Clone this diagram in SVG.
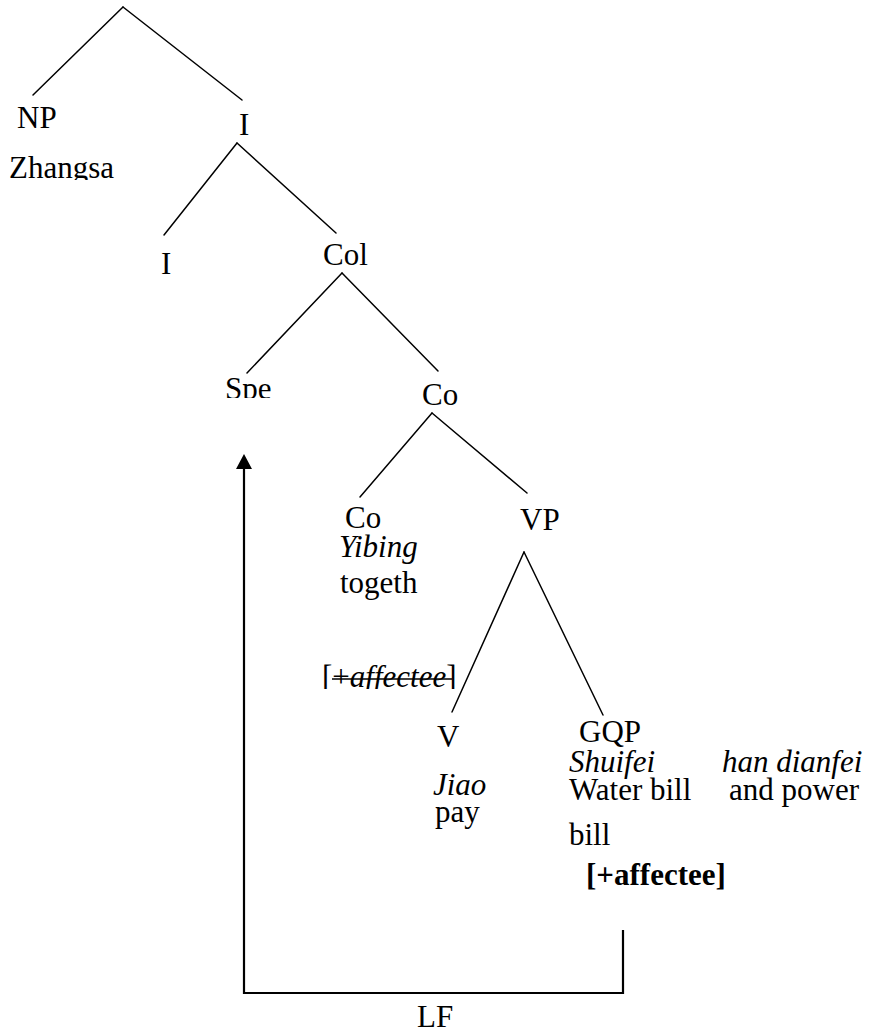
<svg xmlns="http://www.w3.org/2000/svg" width="874" height="1035" viewBox="0 0 874 1035">
  <style>
    text { font-family: "Liberation Serif", "Times New Roman", serif; font-size: 31px; fill: #000; }
    .it { font-style: italic; }
    .bd { font-weight: bold; }
    .branch { stroke: #000; stroke-width: 1.5; fill: none; stroke-linecap: round; }
    .move { stroke: #000; stroke-width: 2.2; fill: none; }
  </style>
  <defs>
    <clipPath id="clipZhangsa"><rect x="0" y="140" width="200" height="40"/></clipPath>
    <clipPath id="clipSpe"><rect x="200" y="360" width="100" height="38"/></clipPath>
    <clipPath id="clipAff"><rect x="300" y="650" width="180" height="39"/></clipPath>
  </defs>

  <rect width="874" height="1035" fill="#fff"/>

  <!-- tree branches -->
  <g id="connectors">
    <line class="branch" x1="123" y1="7" x2="33" y2="95"/>
    <line class="branch" x1="123" y1="7" x2="242" y2="100"/>
    <line class="branch" x1="237" y1="143" x2="164" y2="235"/>
    <line class="branch" x1="237" y1="143" x2="336" y2="233"/>
    <line class="branch" x1="342" y1="273" x2="247" y2="373"/>
    <line class="branch" x1="342" y1="273" x2="438" y2="371"/>
    <line class="branch" x1="432" y1="413" x2="360" y2="497"/>
    <line class="branch" x1="432" y1="413" x2="527" y2="493"/>
    <line class="branch" x1="524" y1="552" x2="452" y2="712"/>
    <line class="branch" x1="524" y1="552" x2="603" y2="715"/>
    <!-- LF movement -->
    <path id="lf-path" class="move" d="M623,930 V993 H244 V467"/>
    <polygon points="244,454 236,469 252,469" fill="#000"/>
  </g>

  <g id="node-np">
    <text x="17" y="128">NP</text>
    <text x="9" y="178" clip-path="url(#clipZhangsa)">Zhangsa</text>
  </g>
  <g id="node-i-bar"><text x="239" y="135">I</text></g>
  <g id="node-i"><text x="161" y="274">I</text></g>
  <g id="node-col"><text x="323" y="265">Col</text></g>
  <g id="node-spe"><text x="225" y="399" clip-path="url(#clipSpe)">Spe</text></g>
  <g id="node-co-bar"><text x="422" y="405">Co</text></g>
  <g id="node-co">
    <text x="345" y="528">Co</text>
    <text class="it" x="339" y="557">Yibing</text>
    <text x="340" y="593">togeth</text>
  </g>
  <g id="node-vp"><text x="520" y="530">VP</text></g>
  <g id="feature-struck" clip-path="url(#clipAff)">
    <text x="322" y="687">[+<tspan class="it">affectee</tspan>]</text>
    <line x1="332" y1="679" x2="452" y2="679" stroke="#000" stroke-width="1.6"/>
  </g>
  <g id="node-v">
    <text x="437" y="747">V</text>
    <text class="it" x="433" y="795">Jiao</text>
    <text x="435" y="822">pay</text>
  </g>
  <g id="node-gqp">
    <text x="579" y="742">GQP</text>
    <text class="it" x="569" y="772">Shuifei</text>
    <text class="it" x="722" y="772">han dianfei</text>
    <text x="569" y="800">Water bill</text>
    <text x="729" y="800">and power</text>
    <text x="569" y="845">bill</text>
    <text class="bd" x="586" y="885">[+affectee]</text>
  </g>
  <g id="label-lf"><text x="417" y="1027">LF</text></g>
</svg>
